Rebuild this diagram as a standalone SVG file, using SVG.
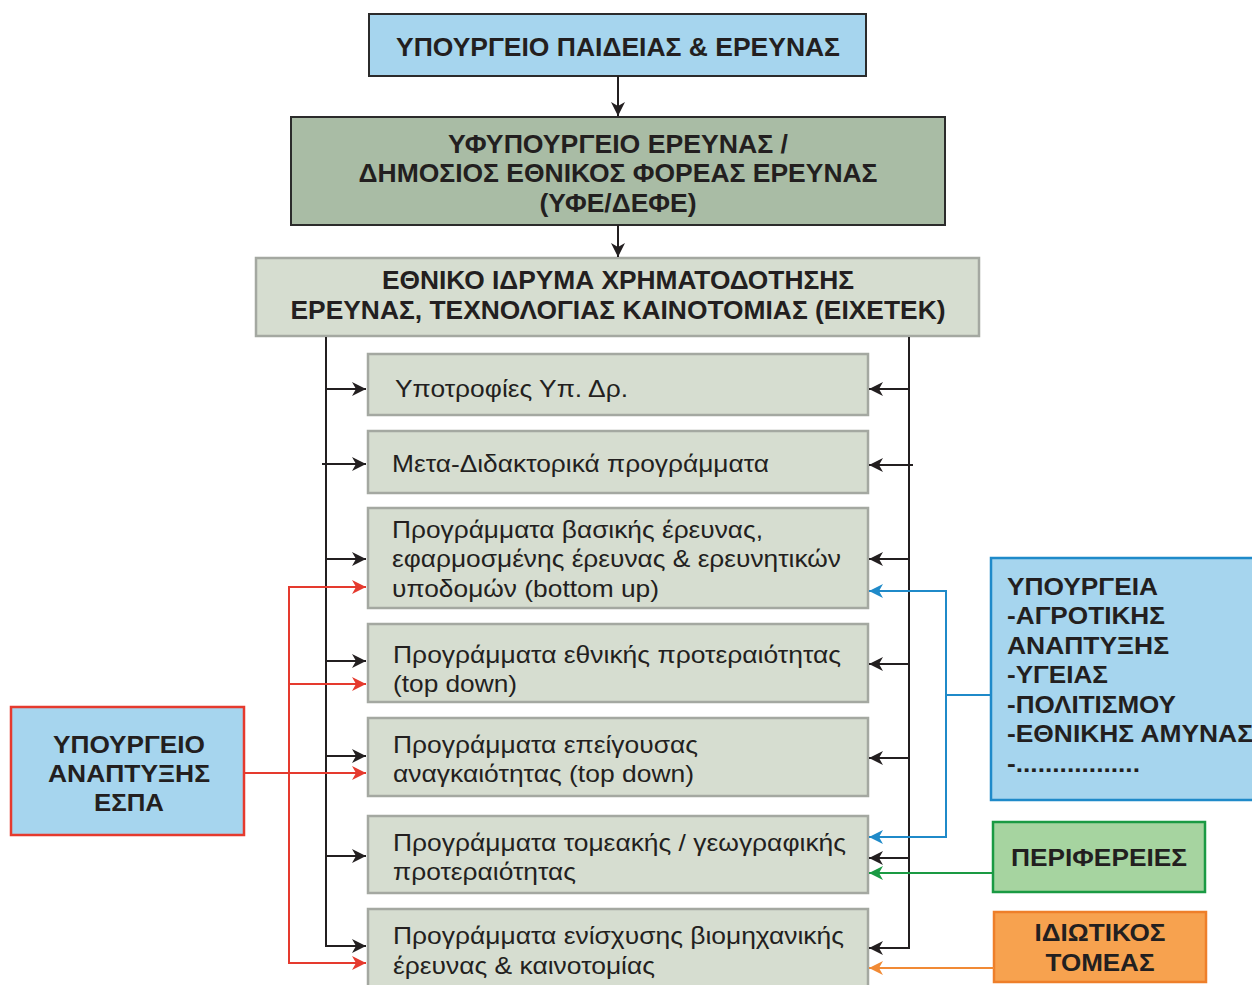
<svg xmlns="http://www.w3.org/2000/svg" width="1252" height="985" viewBox="0 0 1252 985">
<defs>
<style>
.hd{font-family:"Liberation Sans",Arial,sans-serif;font-weight:bold;font-size:25px;fill:#231f20;text-anchor:middle}
.sd{font-family:"Liberation Sans",Arial,sans-serif;font-weight:bold;font-size:24px;fill:#231f20}
.pg{font-family:"Liberation Sans",Arial,sans-serif;font-size:24px;fill:#231f20}
.pbox{fill:#d6ddd0;stroke:#a4a8a1;stroke-width:2.5}
.bk{fill:none;stroke:#231f20;stroke-width:2}
.rd{fill:none;stroke:#e53a2e;stroke-width:2}
.bl{fill:none;stroke:#1f8ac9;stroke-width:2}
.gr{fill:none;stroke:#1a9a43;stroke-width:2}
.or{fill:none;stroke:#f18a35;stroke-width:2}
</style>
<marker id="aK" markerUnits="userSpaceOnUse" markerWidth="16" markerHeight="14" refX="14" refY="7" orient="auto"><path d="M0,0 L14,7 L0,14 L4,7 Z" fill="#231f20"/></marker>
<marker id="aR" markerUnits="userSpaceOnUse" markerWidth="16" markerHeight="14" refX="14" refY="7" orient="auto"><path d="M0,0 L14,7 L0,14 L4,7 Z" fill="#e53a2e"/></marker>
<marker id="aB" markerUnits="userSpaceOnUse" markerWidth="16" markerHeight="14" refX="14" refY="7" orient="auto"><path d="M0,0 L14,7 L0,14 L4,7 Z" fill="#1f8ac9"/></marker>
<marker id="aG" markerUnits="userSpaceOnUse" markerWidth="16" markerHeight="14" refX="14" refY="7" orient="auto"><path d="M0,0 L14,7 L0,14 L4,7 Z" fill="#1a9a43"/></marker>
<marker id="aO" markerUnits="userSpaceOnUse" markerWidth="16" markerHeight="14" refX="14" refY="7" orient="auto"><path d="M0,0 L14,7 L0,14 L4,7 Z" fill="#f18a35"/></marker>
</defs>
<rect width="1252" height="985" fill="#ffffff"/>

<g id="ministry">
<rect x="369" y="14" width="497" height="62" fill="#a6d5ee" stroke="#2b2b2b" stroke-width="2"/>
<text class="hd" x="618" y="56" textLength="444" lengthAdjust="spacingAndGlyphs">ΥΠΟΥΡΓΕΙΟ ΠΑΙΔΕΙΑΣ &amp; ΕΡΕΥΝΑΣ</text>
</g>
<g id="yfe">
<rect x="291" y="117" width="654" height="108" fill="#a9bca5" stroke="#2b2b2b" stroke-width="2"/>
<text class="hd" x="618" y="153" textLength="340" lengthAdjust="spacingAndGlyphs">ΥΦΥΠΟΥΡΓΕΙΟ ΕΡΕΥΝΑΣ /</text>
<text class="hd" x="618" y="182" textLength="519" lengthAdjust="spacingAndGlyphs">ΔΗΜΟΣΙΟΣ ΕΘΝΙΚΟΣ ΦΟΡΕΑΣ ΕΡΕΥΝΑΣ</text>
<text class="hd" x="618" y="212" textLength="157" lengthAdjust="spacingAndGlyphs">(ΥΦΕ/ΔΕΦΕ)</text>
</g>
<g id="eixetek">
<rect x="256" y="258" width="723" height="78" fill="#d6ddd0" stroke="#a4a8a1" stroke-width="2.5"/>
<text class="hd" x="618" y="289" textLength="472" lengthAdjust="spacingAndGlyphs">ΕΘΝΙΚΟ ΙΔΡΥΜΑ ΧΡΗΜΑΤΟΔΟΤΗΣΗΣ</text>
<text class="hd" x="618" y="319" textLength="655" lengthAdjust="spacingAndGlyphs">ΕΡΕΥΝΑΣ, ΤΕΧΝΟΛΟΓΙΑΣ ΚΑΙΝΟΤΟΜΙΑΣ (ΕΙΧΕΤΕΚ)</text>
</g>

<g id="p1"><rect class="pbox" x="368" y="354" width="500" height="61"/>
<text class="pg" x="395" y="397" textLength="233" lengthAdjust="spacingAndGlyphs">Υποτροφίες Υπ. Δρ.</text></g>
<g id="p2"><rect class="pbox" x="368" y="431" width="500" height="62"/>
<text class="pg" x="392" y="472" textLength="377" lengthAdjust="spacingAndGlyphs">Μετα-Διδακτορικά προγράμματα</text></g>
<g id="p3"><rect class="pbox" x="368" y="508" width="500" height="100"/>
<text class="pg" x="392" y="538" textLength="371" lengthAdjust="spacingAndGlyphs">Προγράμματα βασικής έρευνας,</text>
<text class="pg" x="392" y="567" textLength="449" lengthAdjust="spacingAndGlyphs">εφαρμοσμένης έρευνας &amp; ερευνητικών</text>
<text class="pg" x="392" y="597" textLength="267" lengthAdjust="spacingAndGlyphs">υποδομών (bottom up)</text></g>
<g id="p4"><rect class="pbox" x="368" y="624" width="500" height="78"/>
<text class="pg" x="393" y="663" textLength="448" lengthAdjust="spacingAndGlyphs">Προγράμματα εθνικής προτεραιότητας</text>
<text class="pg" x="393" y="692" textLength="124" lengthAdjust="spacingAndGlyphs">(top down)</text></g>
<g id="p5"><rect class="pbox" x="368" y="718" width="500" height="78"/>
<text class="pg" x="393" y="753" textLength="305" lengthAdjust="spacingAndGlyphs">Προγράμματα επείγουσας</text>
<text class="pg" x="393" y="782" textLength="301" lengthAdjust="spacingAndGlyphs">αναγκαιότητας (top down)</text></g>
<g id="p6"><rect class="pbox" x="368" y="816" width="500" height="77"/>
<text class="pg" x="393" y="851" textLength="453" lengthAdjust="spacingAndGlyphs">Προγράμματα τομεακής / γεωγραφικής</text>
<text class="pg" x="393" y="880" textLength="183" lengthAdjust="spacingAndGlyphs">προτεραιότητας</text></g>
<g id="p7"><rect class="pbox" x="368" y="909" width="500" height="90"/>
<text class="pg" x="393" y="944" textLength="451" lengthAdjust="spacingAndGlyphs">Προγράμματα ενίσχυσης βιομηχανικής</text>
<text class="pg" x="393" y="974" textLength="262" lengthAdjust="spacingAndGlyphs">έρευνας &amp; καινοτομίας</text></g>

<g id="espa">
<rect x="11" y="707" width="233" height="128" fill="#a6d5ee" stroke="#e53a2e" stroke-width="2.5"/>
<text class="sd" x="129" y="753" text-anchor="middle" textLength="152" lengthAdjust="spacingAndGlyphs">ΥΠΟΥΡΓΕΙΟ</text>
<text class="sd" x="129" y="782" text-anchor="middle" textLength="162" lengthAdjust="spacingAndGlyphs">ΑΝΑΠΤΥΞΗΣ</text>
<text class="sd" x="129" y="811" text-anchor="middle" textLength="70" lengthAdjust="spacingAndGlyphs">ΕΣΠΑ</text>
</g>
<g id="ministries">
<rect x="991" y="558" width="270" height="242" fill="#a6d5ee" stroke="#1f8ac9" stroke-width="2.5"/>
<text class="sd" x="1007" y="595" textLength="151" lengthAdjust="spacingAndGlyphs">ΥΠΟΥΡΓΕΙΑ</text>
<text class="sd" x="1007" y="624" textLength="158" lengthAdjust="spacingAndGlyphs">-ΑΓΡΟΤΙΚΗΣ</text>
<text class="sd" x="1007" y="654" textLength="162" lengthAdjust="spacingAndGlyphs">ΑΝΑΠΤΥΞΗΣ</text>
<text class="sd" x="1007" y="683" textLength="101" lengthAdjust="spacingAndGlyphs">-ΥΓΕΙΑΣ</text>
<text class="sd" x="1007" y="713" textLength="169" lengthAdjust="spacingAndGlyphs">-ΠΟΛΙΤΙΣΜΟΥ</text>
<text class="sd" x="1007" y="742" textLength="246" lengthAdjust="spacingAndGlyphs">-ΕΘΝΙΚΗΣ ΑΜΥΝΑΣ</text>
<text class="sd" x="1007" y="772" textLength="133" lengthAdjust="spacingAndGlyphs">-.................</text>
</g>
<g id="regions">
<rect x="993" y="822" width="212" height="70" fill="#a6d4a0" stroke="#1a9a43" stroke-width="2.5"/>
<text class="sd" x="1099" y="866" text-anchor="middle" textLength="176" lengthAdjust="spacingAndGlyphs">ΠΕΡΙΦΕΡΕΙΕΣ</text>
</g>
<g id="private">
<rect x="994" y="912" width="212" height="70" fill="#f7a24f" stroke="#ee7f2a" stroke-width="2.5"/>
<text class="sd" x="1100" y="941" text-anchor="middle" textLength="131" lengthAdjust="spacingAndGlyphs">ΙΔΙΩΤΙΚΟΣ</text>
<text class="sd" x="1100" y="971" text-anchor="middle" textLength="109" lengthAdjust="spacingAndGlyphs">ΤΟΜΕΑΣ</text>
</g>

<g id="connectors">
<line class="bk" x1="618" y1="76" x2="618" y2="116" marker-end="url(#aK)"/>
<line class="bk" x1="618" y1="225" x2="618" y2="257" marker-end="url(#aK)"/>
<path class="bk" d="M326,337 V947"/>
<path class="bk" d="M909,337 V948"/>
<line class="bk" x1="325" y1="389" x2="366" y2="389" marker-end="url(#aK)"/>
<line class="bk" x1="322" y1="464" x2="366" y2="464" marker-end="url(#aK)"/>
<line class="bk" x1="325" y1="559" x2="366" y2="559" marker-end="url(#aK)"/>
<line class="bk" x1="325" y1="661" x2="366" y2="661" marker-end="url(#aK)"/>
<line class="bk" x1="325" y1="756" x2="366" y2="756" marker-end="url(#aK)"/>
<line class="bk" x1="325" y1="856" x2="366" y2="856" marker-end="url(#aK)"/>
<line class="bk" x1="325" y1="946" x2="366" y2="946" marker-end="url(#aK)"/>
<line class="bk" x1="910" y1="389" x2="869" y2="389" marker-end="url(#aK)"/>
<line class="bk" x1="913" y1="465" x2="869" y2="465" marker-end="url(#aK)"/>
<line class="bk" x1="910" y1="559" x2="869" y2="559" marker-end="url(#aK)"/>
<line class="bk" x1="910" y1="664" x2="869" y2="664" marker-end="url(#aK)"/>
<line class="bk" x1="910" y1="758" x2="869" y2="758" marker-end="url(#aK)"/>
<line class="bk" x1="910" y1="858" x2="869" y2="858" marker-end="url(#aK)"/>
<line class="bk" x1="910" y1="948" x2="869" y2="948" marker-end="url(#aK)"/>
<path class="rd" d="M289,587 V963"/>
<line class="rd" x1="288" y1="587" x2="366" y2="587" marker-end="url(#aR)"/>
<line class="rd" x1="289" y1="684" x2="366" y2="684" marker-end="url(#aR)"/>
<line class="rd" x1="244" y1="773" x2="366" y2="773" marker-end="url(#aR)"/>
<line class="rd" x1="288" y1="963" x2="366" y2="963" marker-end="url(#aR)"/>
<path class="bl" d="M991,695 H946 M946,591 V838"/>
<line class="bl" x1="947" y1="591" x2="869" y2="591" marker-end="url(#aB)"/>
<line class="bl" x1="947" y1="837" x2="869" y2="837" marker-end="url(#aB)"/>
<line class="gr" x1="993" y1="873" x2="869" y2="873" marker-end="url(#aG)"/>
<line class="or" x1="994" y1="968" x2="869" y2="968" marker-end="url(#aO)"/>
</g>
</svg>
